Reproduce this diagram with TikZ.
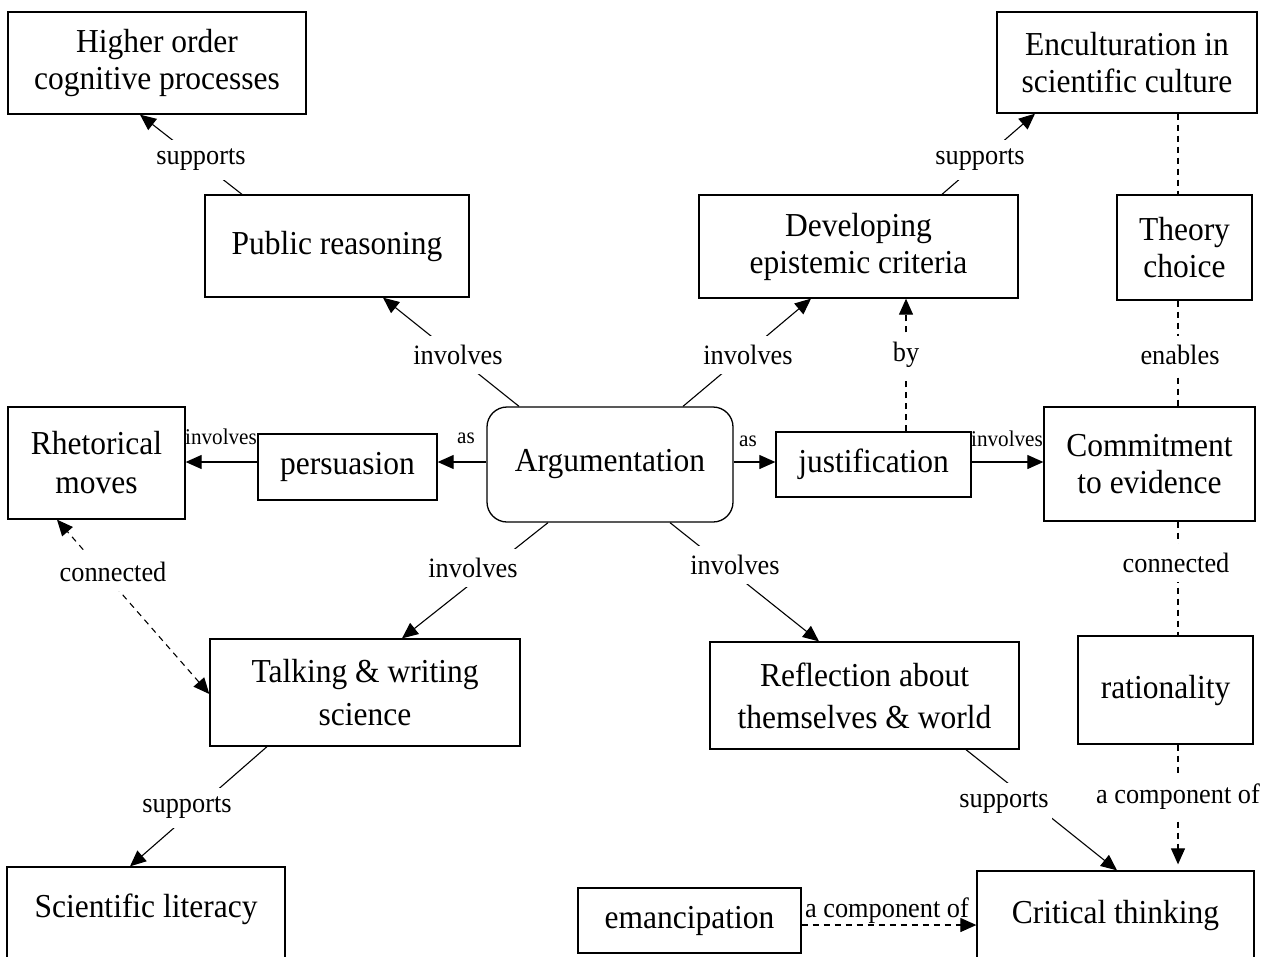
\documentclass[tikz,border=0pt]{standalone}
\usepackage{fontspec}
\setmainfont{Liberation Serif}[FakeStretch=0.94]
\usetikzlibrary{arrows.meta,calc}

\tikzset{
  box/.style={draw, line width=1.3pt, inner sep=0pt, align=center,
    font=\fontsize{33.5}{37}\selectfont},
  lbl/.style={fill=white, inner xsep=3pt, inner ysep=9pt,
    font=\fontsize{28}{30}\selectfont},
  lblplain/.style={inner sep=0pt, font=\fontsize{28}{30}\selectfont},
  smalllbl/.style={inner sep=0pt, font=\fontsize{22.5}{24}\selectfont},
  solidarrow/.style={line width=1.1pt, -{Triangle[length=16pt,width=14pt]}},
  dashline/.style={line width=1.1pt, dash pattern=on 6pt off 5pt},
  dasharrow/.style={dashline, -{Triangle[length=16pt,width=14pt]}},
  dashboth/.style={dashline, {Triangle[length=16pt,width=14pt]}-{Triangle[length=16pt,width=14pt]}},
}

\begin{document}
\begin{tikzpicture}[x=1pt,y=-1pt]
\useasboundingbox (0,0) rectangle (1263,956);
\clip (0,0) rectangle (1263,956);
\fill[white] (0,0) rectangle (1263,956);

% concept boxes
\node[box, minimum width=298pt, minimum height=102pt] (hoc) at (157,63) {Higher order\\cognitive processes};
\node[box, minimum width=264pt, minimum height=102pt] (pr) at (337,246) {Public reasoning};
\node[box, minimum width=260pt, minimum height=101pt] (enc) at (1127,62.5) {Enculturation in\\scientific culture};
\node[box, minimum width=319pt, minimum height=103pt] (dec) at (858.5,246.5) {Developing\\epistemic criteria};
\node[box, minimum width=135pt, minimum height=105pt] (tc) at (1184.5,247.5) {Theory\\choice};
\node[box, minimum width=177pt, minimum height=112pt] (rm) at (96.5,463) {Rhetorical\\[2pt]moves};
\node[box, minimum width=179pt, minimum height=66pt] (pers) at (347.5,467) {persuasion};
\node[box, rounded corners=20pt, minimum width=246pt, minimum height=115pt] (arg) at (610,464.5) {Argumentation};
\node[box, minimum width=195pt, minimum height=65pt] (just) at (873.5,464.5) {justification};
\node[box, minimum width=211pt, minimum height=114pt] (ce) at (1149.5,464) {Commitment\\to evidence};
\node[box, minimum width=310pt, minimum height=107pt] (tw) at (365,692.5) {Talking \& writing\\[6pt]science};
\node[box, minimum width=309pt, minimum height=107pt] (refl) at (864.5,695.5) {Reflection about\\[5pt]themselves \& world};
\node[box, minimum width=175pt, minimum height=108pt] (rat) at (1165.5,690) {rationality};
\node[box, minimum width=278pt, minimum height=108pt, text height=23pt, text depth=30pt] (sl) at (146,921) {Scientific literacy};
\node[box, minimum width=223pt, minimum height=65pt] (eman) at (689.5,920.5) {emancipation};
\node[box, minimum width=277pt, minimum height=100pt, text height=23pt, text depth=18pt] (ct) at (1115.5,921) {Critical thinking};

% connectors
\draw[solidarrow] ($(pr.north)+(-95,0)$) -- ($(hoc.south)+(-17,0)$);
\draw[solidarrow] ($(arg.north)+(-91,0)$) -- ($(pr.south)+(46,0)$);
\draw[solidarrow] ($(arg.north)+(73,0)$) -- ($(dec.south)+(-47.5,0)$);
\draw[solidarrow] ($(dec.north)+(83.5,0)$) -- ($(enc.south)+(-92,0)$);
\draw[dasharrow] ($(just.north)+(32.5,0)$) -- ($(dec.south)+(47.5,0)$);
\draw[dashline] ($(enc.south)+(51,0)$) -- ($(tc.north)+(-6.5,0)$);
\draw[dashline] ($(tc.south)+(-6.5,0)$) -- ($(ce.north)+(28.5,0)$);
\draw[dashline] ($(ce.south)+(28.5,0)$) -- ($(rat.north)+(12.5,0)$);
\draw[dasharrow] ($(rat.south)+(12.5,0)$) -- ($(ct.north)+(62.5,-6)$);
\draw[solidarrow] ($(refl.south)+(101.5,0)$) -- ($(ct.north)+(1.5,0)$);
\draw[solidarrow] ($(arg.south)+(-62,0)$) -- ($(tw.north)+(37,0)$);
\draw[solidarrow] ($(arg.south)+(60,0)$) -- ($(refl.north)+(-45.5,0)$);
\draw[solidarrow] ($(tw.south)+(-98,0)$) -- ($(sl.north)+(-16,0)$);
\draw[dashboth] ($(tw.west)+(0,1.5)$) -- ($(rm.south)+(-39.5,0)$);
\draw[solidarrow] ($(arg.west)+(0,-2.5)$) -- ($(pers.east)+(0,-5)$);
\draw[solidarrow] ($(pers.west)+(0,-5)$) -- ($(rm.east)+(0,-1)$);
\draw[solidarrow] ($(arg.east)+(0,-2.5)$) -- ($(just.west)+(0,-2.5)$);
\draw[solidarrow] ($(just.east)+(0,-2.5)$) -- ($(ce.west)+(0,-2)$);
\draw[dasharrow] ($(eman.east)+(0,4.5)$) -- ($(ct.west)+(0,4)$);

% connector labels
\node[lbl] (l1) at (201,160) {supports};
\node[lbl] (l2) at (458,355) {involves};
\node[lbl] (l3) at (748,355) {involves};
\node[lbl] (l4) at (980,160) {supports};
\node[lbl] (l5) at (906,355) {by};
\node[lbl] (l6) at (1180,355) {enables};
\node[lbl] (l7) at (1176,563) {connected};
\node[lbl] (l8) at (1178,797) {a component of};
\node[lbl] (l9) at (1004,803) {supports};
\node[lbl] (l10) at (473,568) {involves};
\node[lbl] (l11) at (735,565) {involves};
\node[lbl] (l12) at (187,808) {supports};
\node[lbl] (l13) at (113,572) {connected};
\node[smalllbl] (l14) at (466,438) {as};
\node[smalllbl] (l15) at (221,437) {involves};
\node[smalllbl] (l16) at (748,441) {as};
\node[smalllbl] (l17) at (1007,439) {involves};
\node[lblplain, anchor=base] (l18) at (887,917) {a component of};
\end{tikzpicture}
\end{document}
